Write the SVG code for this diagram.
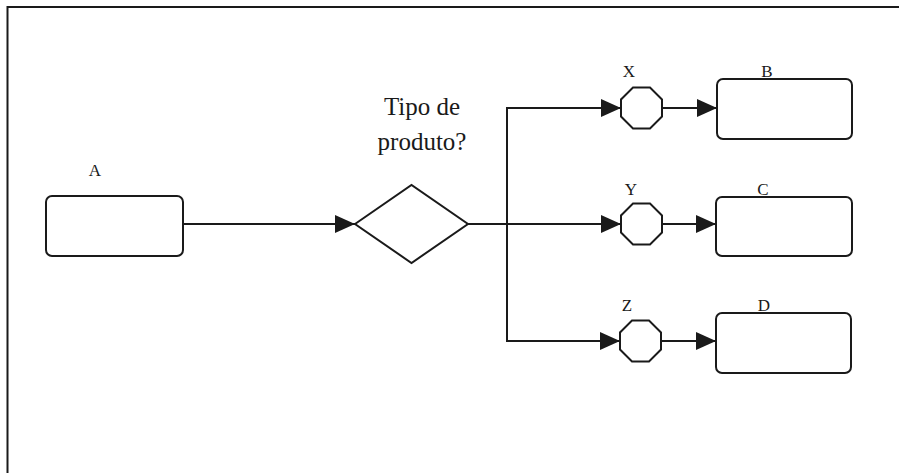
<svg xmlns="http://www.w3.org/2000/svg" width="899" height="473" viewBox="0 0 899 473">
<style>
.shape{fill:#fff;stroke:#1a1a1a;stroke-width:2}
.conn{fill:none;stroke:#1a1a1a;stroke-width:2}
.lbl{font-family:"Liberation Serif","Times New Roman",serif;font-size:17px;fill:#1a1a1a;text-anchor:middle}
.q{font-family:"Liberation Serif","Times New Roman",serif;font-size:25px;fill:#1a1a1a;text-anchor:middle}
</style>
<defs>
<marker id="arr" markerUnits="userSpaceOnUse" markerWidth="20" markerHeight="18" refX="20" refY="9" orient="auto">
<path d="M0,0 L20,9 L0,18 z" fill="#1a1a1a"/>
</marker>
</defs>
<rect width="899" height="473" fill="#fff"/>
<g id="frame">
<path d="M7.5,473 V7 H899" fill="none" stroke="#1a1a1a" stroke-width="2"/>
</g>
<g id="connectors">
<path class="conn" d="M183,224 H355" marker-end="url(#arr)"/>
<path class="conn" d="M468,224 H621" marker-end="url(#arr)"/>
<path class="conn" d="M507,224 V108 H621" marker-end="url(#arr)"/>
<path class="conn" d="M507,224 V341 H620" marker-end="url(#arr)"/>
<path class="conn" d="M662,108 H717" marker-end="url(#arr)"/>
<path class="conn" d="M662,224 H716" marker-end="url(#arr)"/>
<path class="conn" d="M661,341 H716" marker-end="url(#arr)"/>
</g>
<g id="nodeA">
<rect class="shape" x="46" y="196" width="137" height="60" rx="6"/>
<text class="lbl" x="95" y="176">A</text>
</g>
<g id="decision">
<polygon class="shape" points="355,224 411.5,185 468,224 411.5,263"/>
<text class="q" x="422" y="115">Tipo de</text>
<text class="q" x="422" y="150">produto?</text>
</g>
<g id="eventX">
<polygon class="shape" transform="translate(641.5,108)" points="-8.5,-20.5 8.5,-20.5 20.5,-8.5 20.5,8.5 8.5,20.5 -8.5,20.5 -20.5,8.5 -20.5,-8.5"/>
<text class="lbl" x="629" y="77">X</text>
</g>
<g id="eventY">
<polygon class="shape" transform="translate(641.5,224)" points="-8.5,-20.5 8.5,-20.5 20.5,-8.5 20.5,8.5 8.5,20.5 -8.5,20.5 -20.5,8.5 -20.5,-8.5"/>
<text class="lbl" x="631" y="195">Y</text>
</g>
<g id="eventZ">
<polygon class="shape" transform="translate(640.5,341)" points="-8.5,-20.5 8.5,-20.5 20.5,-8.5 20.5,8.5 8.5,20.5 -8.5,20.5 -20.5,8.5 -20.5,-8.5"/>
<text class="lbl" x="627" y="311">Z</text>
</g>
<g id="nodeB">
<rect class="shape" x="717" y="79" width="135" height="60" rx="6"/>
<text class="lbl" x="767" y="77">B</text>
</g>
<g id="nodeC">
<rect class="shape" x="716" y="197" width="136" height="59" rx="6"/>
<text class="lbl" x="763" y="195">C</text>
</g>
<g id="nodeD">
<rect class="shape" x="716" y="313" width="135" height="60" rx="6"/>
<text class="lbl" x="764" y="311">D</text>
</g>
</svg>
